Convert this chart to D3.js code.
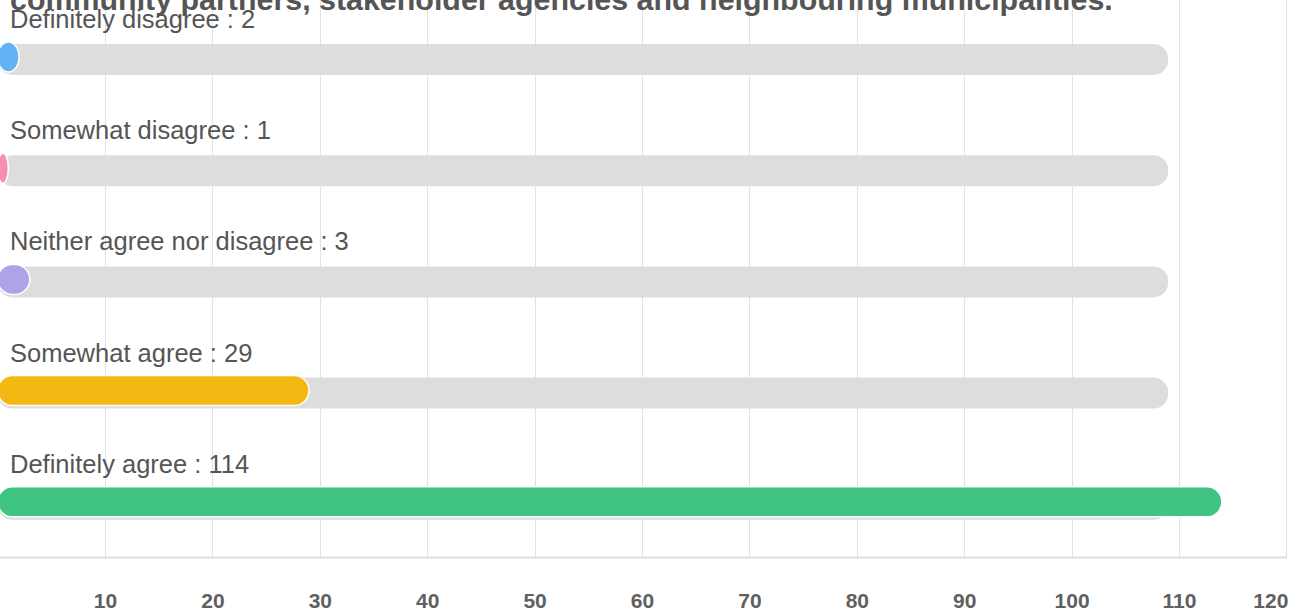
<!DOCTYPE html>
<html>
<head>
<meta charset="utf-8">
<script src="https://cdn.jsdelivr.net/npm/d3@7"></script>
<style>
  html, body { margin: 0; padding: 0; background: #fff; overflow: hidden; }
  svg { display: block; font-family: "Liberation Sans", Arial, Helvetica, sans-serif; }
</style>
</head>
<body>
<div id="chart"></div>
<script>
const title = 'community partners, stakeholder agencies and neighbouring municipalities.';
const categories = [
  'Definitely disagree',
  'Somewhat disagree',
  'Neither agree nor disagree',
  'Somewhat agree',
  'Definitely agree',
];
const values = [2, 1, 3, 29, 114];
const colors = ['#62b3f6', '#f48fb0', '#ada3e6', '#f3b811', '#3fc482'];
const ticks = [10, 20, 30, 40, 50, 60, 70, 80, 90, 100, 110, 120];
const trackMax = 109;

const width = 1292;
const height = 611;

const svg = d3.select('#chart')
  .append('svg')
  .attr('width', width)
  .attr('height', height);

const x = d3.scaleLinear()
  .domain([0, 120])
  .range([-2.4, 1286.4]);

const y = d3.scaleBand()
  .domain(categories)
  .range([0, 556])
  .paddingInner(0)
  .paddingOuter(0);

// vertical grid
svg.append('g')
  .attr('class', 'grid')
  .selectAll('line')
  .data(ticks)
  .join('line')
  .attr('x1', d => Math.round(x(d)) + 0.5)
  .attr('x2', d => Math.round(x(d)) + 0.5)
  .attr('y1', 0)
  .attr('y2', 557)
  .attr('stroke', '#e2e2e2')
  .attr('stroke-width', 1);

// bottom baseline
svg.append('line')
  .attr('x1', 0)
  .attr('x2', Math.round(x(120)) + 1)
  .attr('y1', 557.5)
  .attr('y2', 557.5)
  .attr('stroke', '#dddddd')
  .attr('stroke-width', 2);

// x axis labels
const xAxis = svg.append('g')
  .attr('transform', 'translate(0, 608)')
  .call(d3.axisBottom(x).tickValues(ticks).tickSize(0).tickPadding(0));
xAxis.select('.domain').remove();
xAxis.selectAll('text')
  .attr('y', 0)
  .attr('dy', 0)
  .style('font-family', '"Liberation Sans", Arial, sans-serif')
  .style('font-size', '21px')
  .style('font-weight', 'bold')
  .style('fill', '#606060');
xAxis.selectAll('.tick:last-child text').attr('text-anchor', 'end').attr('dx', 1.5);

// title (cut off at top)
svg.append('text')
  .attr('x', 10)
  .attr('y', 10)
  .style('font-size', '30.4px')
  .style('font-weight', 'bold')
  .style('fill', '#555')
  .text(title);

const rows = svg.append('g')
  .selectAll('g')
  .data(categories)
  .join('g')
  .attr('transform', d => `translate(0, ${y(d)})`);

rows.append('text')
  .attr('x', 10)
  .attr('y', 28)
  .style('font-size', '25.5px')
  .style('fill', '#555')
  .text((d, i) => `${d} : ${values[i]}`);

// grey track
rows.append('rect')
  .attr('x', x(0))
  .attr('y', 44)
  .attr('width', x(trackMax) - x(0))
  .attr('height', 31)
  .attr('rx', 15)
  .attr('fill', '#dddddd');

// value bar
rows.append('rect')
  .attr('x', x(0))
  .attr('y', 42)
  .attr('width', (d, i) => x(values[i]) - x(0))
  .attr('height', 30)
  .attr('rx', 15)
  .attr('fill', (d, i) => colors[i])
  .attr('stroke', '#fff')
  .attr('stroke-width', 1.5);
</script>
</body>
</html>
